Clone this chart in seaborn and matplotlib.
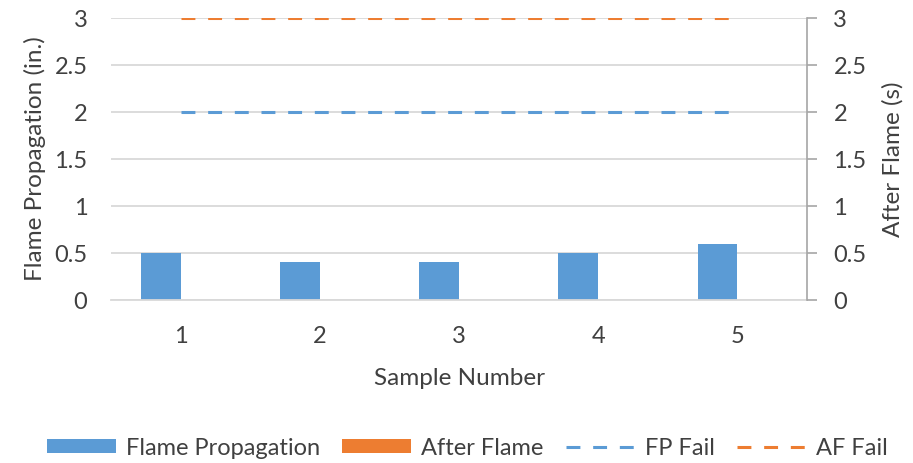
import numpy as np
import pandas as pd
import matplotlib
matplotlib.use("Agg")
import matplotlib.pyplot as plt
import seaborn as sns
from matplotlib.patches import Patch
from matplotlib.lines import Line2D

samples = ["1", "2", "3", "4", "5"]
flame_propagation = [0.5, 0.4, 0.4, 0.5, 0.6]
after_flame = [0, 0, 0, 0, 0]
fp_fail = [2, 2, 2, 2, 2]
af_fail = [3, 3, 3, 3, 3]
yticks = [0, 0.5, 1, 1.5, 2, 2.5, 3]
ytick_labels = ["0", "0.5", "1", "1.5", "2", "2.5", "3"]

BLUE = "#5B9BD5"
ORANGE = "#ED7D31"
GRID = "#D9D9D9"
TEXT = "#404040"
DASH = (10, 9.2)

sns.set_theme(style="white")
plt.rcParams["font.family"] = ["Lato", "DejaVu Sans"]
plt.rcParams["lines.scale_dashes"] = False

df = pd.DataFrame({
    "Sample": samples * 2,
    "Value": flame_propagation + after_flame,
    "Series": ["Flame Propagation"] * len(samples) + ["After Flame"] * len(samples),
})

fig = plt.figure(figsize=(9.13, 4.63), dpi=100)
ax = fig.add_axes([0.1216, 0.352, 0.7623, 0.609])

sns.barplot(data=df, x="Sample", y="Value", hue="Series", order=samples,
            hue_order=["Flame Propagation", "After Flame"],
            palette=[BLUE, ORANGE], width=0.572, ax=ax, legend=False,
            edgecolor="none", saturation=1)
ax.set_xlim(-0.5, len(samples) - 0.5)
ax.set_ylim(0, 3)
ax.set_yticks(yticks)
ax.set_yticklabels(ytick_labels)
ax.yaxis.grid(True, color=GRID, linewidth=1.3)
ax.set_axisbelow(True)
for s in ["top", "right", "left"]:
    ax.spines[s].set_visible(False)
ax.spines["bottom"].set_color(GRID)
ax.spines["bottom"].set_linewidth(1.3)
ax.tick_params(axis="y", length=0, labelsize=17, colors=TEXT, pad=17)
ax.tick_params(axis="x", length=0, labelsize=17, colors=TEXT, pad=19)
ax.set_xlabel("Sample Number", fontsize=17.5, color=TEXT, labelpad=15)
ax.set_ylabel("Flame Propagation (in.)", fontsize=17.5, color=TEXT, labelpad=6)

ax2 = ax.twinx()
pos = np.arange(len(samples))
sns.lineplot(x=pos, y=fp_fail, ax=ax2, color=BLUE, linewidth=2.2,
             dashes=False, legend=False)
sns.lineplot(x=pos, y=af_fail, ax=ax2, color=ORANGE, linewidth=2.2,
             dashes=False, legend=False)
for ln in ax2.get_lines():
    ln.set_dashes(DASH)
    ln.set_dash_capstyle("butt")
ax2.set_ylim(0, 3)
ax2.set_yticks(yticks)
ax2.set_yticklabels(ytick_labels)
for s in ["top", "left", "bottom"]:
    ax2.spines[s].set_visible(False)
ax2.spines["right"].set_color("#A6A6A6")
ax2.spines["right"].set_linewidth(1.2)
ax2.tick_params(axis="y", length=7, width=1.2, color="#A6A6A6",
                labelsize=17, labelcolor=TEXT, pad=12, direction="out")
ax2.set_ylabel("After Flame (s)", fontsize=17.5, color=TEXT, labelpad=11)

handles = [
    Patch(facecolor=BLUE, edgecolor="none"),
    Patch(facecolor=ORANGE, edgecolor="none"),
    Line2D([0], [0], color=BLUE, linewidth=2.2, dashes=DASH, dash_capstyle="butt"),
    Line2D([0], [0], color=ORANGE, linewidth=2.2, dashes=DASH, dash_capstyle="butt"),
]
labels = ["Flame Propagation", "After Flame", "FP Fail", "AF Fail"]
fig.legend(handles, labels, loc="center", bbox_to_anchor=(0.512, 0.032),
           ncol=4, frameon=False, fontsize=17, labelcolor=TEXT,
           handlelength=2.92, handleheight=0.55, columnspacing=0.95,
           handletextpad=0.42, borderpad=0.2)

fig.savefig("out.png", dpi=100)
